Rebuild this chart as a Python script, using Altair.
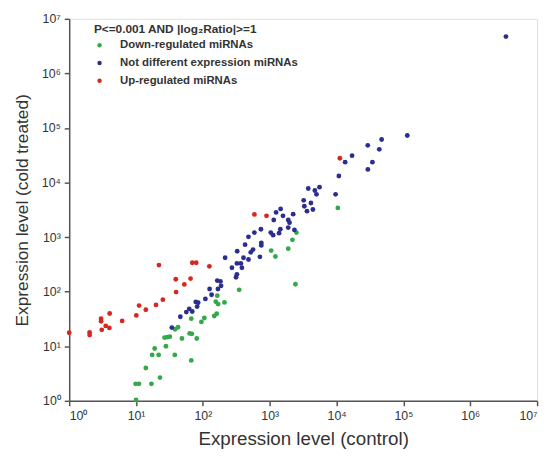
import altair as alt
import pandas as pd

# ---- data ----
down_x = [10450, 2424, 2506, 2188, 1891, 1050, 1216, 349, 164, 156, 169, 210, 161, 148, 105, 95, 67,
          63.2, 68.4, 81, 67, 48.6, 42.5, 38.4, 32.0, 29.2, 26.7, 28.0, 21.8, 17.4, 19.0, 38, 14.0,
          22.8, 9.85, 11.05, 17.0, 10]
down_y = [3430, 137, 1211, 893, 615, 566, 441, 108, 84.5, 65.6, 59.3, 63.7, 39.4, 35.8, 33.0, 27.9, 32.0,
          17.2, 16.9, 13.9, 5.5, 13.9, 22.3, 20.5, 15.0, 14.7, 14.4, 10.0, 6.95, 6.95, 9.1, 6.95, 4.0,
          2.67, 2.05, 2.05, 2.05, 1.04]

notdiff_x = [3.42e6, 114300, 47200, 29300, 43500, 17050, 13430, 34350, 29380, 10820, 9670, 3770, 5560,
             4733, 5010, 3222, 4130, 3293, 4423, 3607, 1456, 1245, 1578, 2242, 1148, 1891, 1978, 738,
             1441, 1891, 2343, 589, 1036, 1124, 1379, 481, 748, 748, 428, 326, 562, 520, 405, 481, 713,
             215, 272, 323, 370, 383, 323, 313, 164, 183, 187, 168, 126, 135, 109, 78.3, 85, 82, 62.5,
             69.3, 56.5, 46, 34.3]
notdiff_y = [4.73e6, 72800, 61500, 48000, 40600, 31100, 23650, 23650, 17380, 13200, 6070, 7780, 8220,
             7160, 6070, 4725, 4220, 3680, 3208, 2990, 3290, 2832, 2458, 2637, 2056, 2056, 1838, 1396,
             1396, 1493, 1355, 1211, 1211, 1086, 1181, 1013, 780, 705, 726, 550, 590, 527, 418, 389, 435,
             418, 275, 330, 330, 275, 208, 184, 160, 154, 128, 112, 112, 88, 73.6, 65, 63, 53.4, 48.5,
             43.4, 42.3, 34.8, 22]

up_x = [1.0, 2.02, 2.02, 3.0, 3.0, 3.07, 3.52, 3.99, 4.03, 6.2, 10.1, 11.1, 14.0, 19.9, 22.0, 25.2,
        39.3, 39.7, 52.8, 65.4, 69.3, 79.4, 125, 590, 895, 11190]
up_y = [17.7, 17.9, 16.0, 32.0, 28.6, 20.0, 23.6, 21.7, 39.9, 29.1, 36.7, 55.7, 46.6, 57.3, 307, 71.5,
        169, 98.5, 136, 174, 339, 339, 291, 2606, 2458, 27900]

groups = ["Down-regulated miRNAs", "Not different expression miRNAs", "Up-regulated miRNAs"]
colors = ["#35a84c", "#2b2e8e", "#d6281f"]
tick_values = [1, 10, 100, 1000, 10000, 100000, 1000000, 10000000]

rows = []
for g, xs, ys in zip(groups, [down_x, notdiff_x, up_x], [down_y, notdiff_y, up_y]):
    for a, b in zip(xs, ys):
        rows.append({"control": a, "cold": b, "group": g})
df = pd.DataFrame(rows)

label_expr = "'10' + ['\u2070','\u00b9','\u00b2','\u00b3','\u2074','\u2075','\u2076','\u2077'][round(log(datum.value)/LN10)]"

axis_common = dict(
    values=tick_values, labelExpr=label_expr, grid=False,
    domainColor="#555555", domainWidth=1.5, tickColor="#555555", tickWidth=1.5, tickSize=5,
    labelFont="Liberation Sans", labelFontSize=12.5, labelColor="#333333",
    titleFont="Liberation Sans", titleFontWeight="normal", titleColor="#333333",
)

chart = alt.Chart(df).mark_circle(size=24, opacity=1).encode(
    x=alt.X("control:Q", title="Expression level (control)",
            scale=alt.Scale(type="log", domain=[1, 1e7], nice=False, clamp=True),
            axis=alt.Axis(labelPadding=4, titlePadding=8, titleFontSize=19, **axis_common)),
    y=alt.Y("cold:Q", title="Expression level (cold treated)",
            scale=alt.Scale(type="log", domain=[1, 1e7], nice=False),
            axis=alt.Axis(labelPadding=4, titlePadding=10, titleFontSize=17.5, **axis_common)),
    color=alt.Color("group:N",
                    scale=alt.Scale(domain=groups, range=colors),
                    legend=alt.Legend(
                        title="P<=0.001 AND |log\u2082Ratio|>=1",
                        orient="none", legendX=25, legendY=5,
                        titleFont="Liberation Sans", titleFontSize=12, titleFontWeight="bold",
                        titleColor="#333333", titlePadding=4, titleLimit=400,
                        labelFont="Liberation Sans", labelFontSize=11.5, labelFontWeight="bold",
                        labelColor="#333333", labelOffset=15, labelLimit=400,
                        symbolType="circle", symbolSize=20, symbolStrokeWidth=0,
                        rowPadding=5,
                    )),
).properties(
    width=474, height=387,
    autosize=alt.AutoSizeParams(type="none"),
    padding={"left": 62, "top": 8, "right": 8, "bottom": 59},
).configure_view(stroke=None).configure(background="white")

chart.save("out.html", embed_options={"renderer": "svg", "actions": False})
